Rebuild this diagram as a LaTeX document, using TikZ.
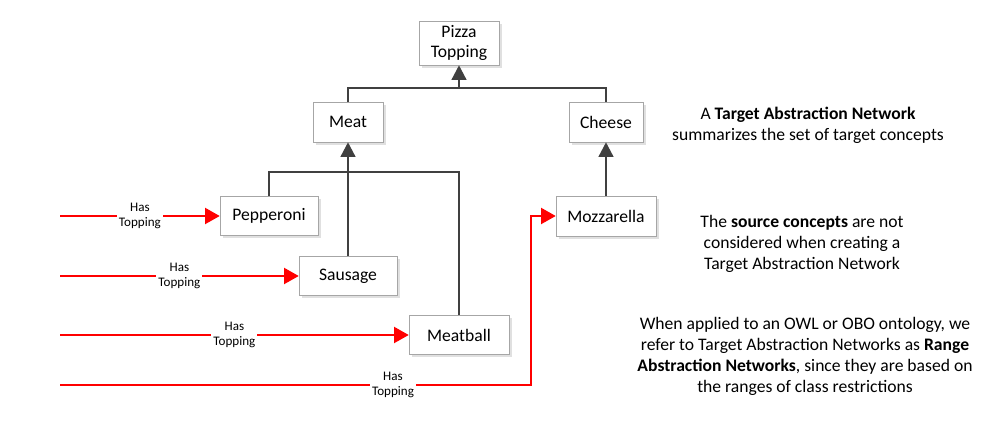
\documentclass[tikz,border=0pt]{standalone}
\usepackage{fontspec}
\setmainfont{Carlito}
\usetikzlibrary{positioning, arrows.meta, shadows}

\begin{document}
\begin{tikzpicture}[x=.75pt, y=-.75pt, >={Triangle[length=11pt,width=11pt]},
    concept/.style={draw=black!35, fill=white, align=center, font=\fontsize{13.2}{15}\selectfont,
        general shadow={fill=black!12, shadow xshift=2pt, shadow yshift=-2pt}},
    isa/.style={draw=black!75, line width=1.8pt},
    hastop/.style={draw=red, line width=1.5pt},
    rel/.style={fill=white, align=center, inner sep=1.5pt, font=\fontsize{9.8}{11.2}\selectfont},
    note/.style={align=center, font=\fontsize{13.2}{15.75}\selectfont}]
\useasboundingbox (0,0) rectangle (1000,434);

% concepts
\node[concept, minimum width=60pt, minimum height=30pt] (pizza) at (459,43) {Pizza\\Topping};
\node[concept, minimum width=52.5pt, minimum height=30pt] (meat) at (348,122) {Meat};
\node[concept, minimum width=55.5pt, minimum height=30pt] (cheese) at (606,122) {Cheese};
\node[concept, minimum width=73.5pt, minimum height=29.25pt] (pepperoni) at (269,216) {Pepperoni};
\node[concept, minimum width=73.5pt, minimum height=29.25pt] (sausage) at (348,276) {Sausage};
\node[concept, minimum width=75pt, minimum height=29.25pt] (meatball) at (459,335) {Meatball};
\node[concept, minimum width=75pt, minimum height=30pt] (mozzarella) at (606,216) {Mozzarella};

% is-a hierarchy
\coordinate (pbar) at (459,88);
\coordinate (mbar) at (348,172);
\draw[isa] (cheese.north) |- (pbar);
\draw[isa, ->] (meat.north) |- (pbar) -- (pizza.south);
\draw[isa] (pepperoni.north) |- (mbar);
\draw[isa] (meatball.north) |- (mbar);
\draw[isa, ->] (sausage.north) -- (meat.south);
\draw[isa, ->] (mozzarella.north) -- (cheese.south);

% has topping
\coordinate (src1) at (60,216);
\coordinate (src2) at (60,276);
\coordinate (src3) at (60,335);
\coordinate (src4) at (60,385);
\coordinate (mbend) at (531,385);
\draw[hastop, -{Triangle[length=11pt,width=12pt]}] (src1) -- node[rel]{Has\\Topping} (pepperoni.west);
\draw[hastop, -{Triangle[length=11pt,width=12pt]}] (src2) -- node[rel]{Has\\Topping} (sausage.west);
\draw[hastop, -{Triangle[length=11pt,width=12pt]}] (src3) -- node[rel]{Has\\Topping} (meatball.west);
\draw[hastop, -{Triangle[length=11pt,width=12pt]}] (src4) -- node[rel, pos=.707]{Has\\Topping} (mbend) |- (mozzarella.west);

% notes
\node[note] (absnote) at (808,125) {A \textbf{Target Abstraction Network}\\summarizes the set of target concepts};
\node[note] (srcnote) at (802,244) {The \textbf{source concepts} are not\\considered when creating a\\Target Abstraction Network};
\node[note] (rannote) at (805,356) {When applied to an OWL or OBO ontology, we\\refer to Target Abstraction Networks as \textbf{Range}\\\textbf{Abstraction Networks}, since they are based on\\the ranges of class restrictions};

\end{tikzpicture}
\end{document}
